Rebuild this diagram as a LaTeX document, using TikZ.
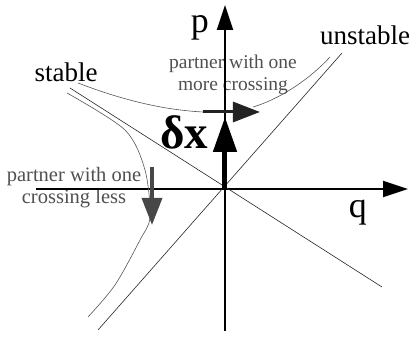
\documentclass[tikz,border=0pt]{standalone}
\usepackage{fontspec}
\setmainfont{Liberation Serif}
\usepackage{tikz}
\usetikzlibrary{arrows.meta,positioning}
\definecolor{linedark}{HTML}{262626}
\definecolor{orbitgray}{HTML}{555555}
\definecolor{labelgray}{HTML}{505050}
\definecolor{arrowgray}{HTML}{474747}
\definecolor{arrowdark}{HTML}{222222}

\begin{document}
\begin{tikzpicture}[
  x=1pt,y=1pt,
  axis/.style={line width=2pt,-{Triangle[length=25pt,width=16pt]}},
  manifold/.style={line width=0.6pt,draw=linedark},
  orbit/.style={line width=0.6pt,draw=orbitgray},
  partner/.style={font=\fontsize{#1}{22}\selectfont,text=labelgray,align=center},
  big/.style={font=\fontsize{#1}{#1}\selectfont,anchor=base},
  shift/.style={line width=3.5pt,draw=#1,-{Triangle[length=27pt,width=20pt]}},
]
  \useasboundingbox (-225,-148) rectangle (193,189);

  % labels
  \node[big=36] (plab) at (-25,156) {p};
  \node[big=36] (qlab) at (133,-29) {q};
  \node[big=27] (unst) at (140,144) {unstable};
  \node[big=27] (stab) at (-159,107) {stable};
  \node[partner=19.5] (more) at (8,114) {partner with one\\more crossing};
  \node[partner=20.5] (less) at (-151,1) {partner with one\\crossing less};
  \node[anchor=base,font={\fontsize{47}{47}\selectfont\bfseries}] (dx) at (-41,40) {δx};

  % axes
  \coordinate (O) at (0,0);
  \coordinate (pbot) at (0,-142);
  \coordinate (ptop) at (0,184);
  \coordinate (qleft) at (-189,0);
  \coordinate (qright) at (183,0);
  \draw[axis] (pbot) -- (ptop);
  \draw[axis] (qleft) -- (qright);

  % manifolds
  \coordinate (u1) at (-127,-141);
  \coordinate (u2) at (117,136);
  \coordinate (s1) at (-155,101);
  \coordinate (s2) at (157,-98);
  \draw[manifold] (u1) -- (u2);
  \draw[manifold] (s1) -- (s2);

  % neighbouring orbits
  \coordinate (m1) at (-22,77);
  \coordinate (m2) at (35,77);
  \coordinate (l1) at (-73,22);
  \coordinate (l2) at (-73,-36);
  \draw[orbit] (-147,106) .. controls (-100,88) and (-60,79) .. (m1);
  \draw[orbit] (28,82) .. controls (55,90) and (85,110) .. (105,132);
  \draw[orbit] plot[smooth] coordinates {(-158,96) (-100,59) (-80,19) (-75,-28) (-85,-51) (-110,-96) (-137,-128)};

  % displacement and partner shifts
  \draw[line width=5pt,-{Triangle[length=35pt,width=23pt]}] (O) -- (0,72);
  \draw[shift=arrowdark,line width=3pt] (m1) -- (m2);
  \draw[shift=arrowgray] (l1) -- (l2);
\end{tikzpicture}
\end{document}
